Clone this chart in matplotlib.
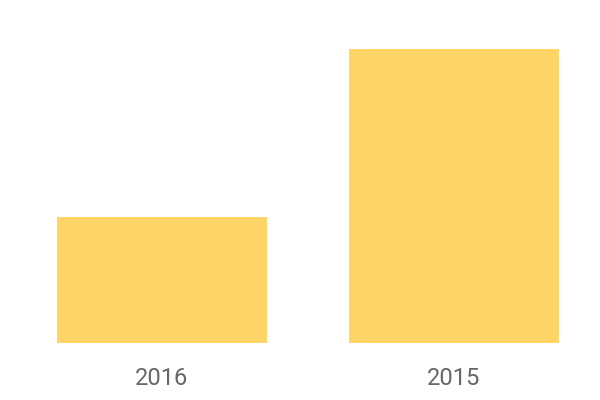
import matplotlib
matplotlib.use("Agg")
import matplotlib.pyplot as plt

categories = ["2016", "2015"]
values = [3, 7]
bar_color = "#FFD466"

fig = plt.figure(figsize=(6, 4), dpi=100)
ax = fig.add_axes([57/600, 1-343/400, (559-57)/600, (343-49)/400])
w = 210/292
x = list(range(len(categories)))
ax.bar(x, values, width=w, color=bar_color)
ax.set_xlim(-w/2, 1+w/2)
ax.set_ylim(0, max(values))
ax.set_xticks(x)
ax.set_xticklabels(categories, fontfamily="Roboto", fontsize=17, color="#666666")
ax.tick_params(axis="x", length=0, pad=17)
ax.set_yticks([])
for s in ax.spines.values():
    s.set_visible(False)
fig.savefig("out.png", dpi=100)
